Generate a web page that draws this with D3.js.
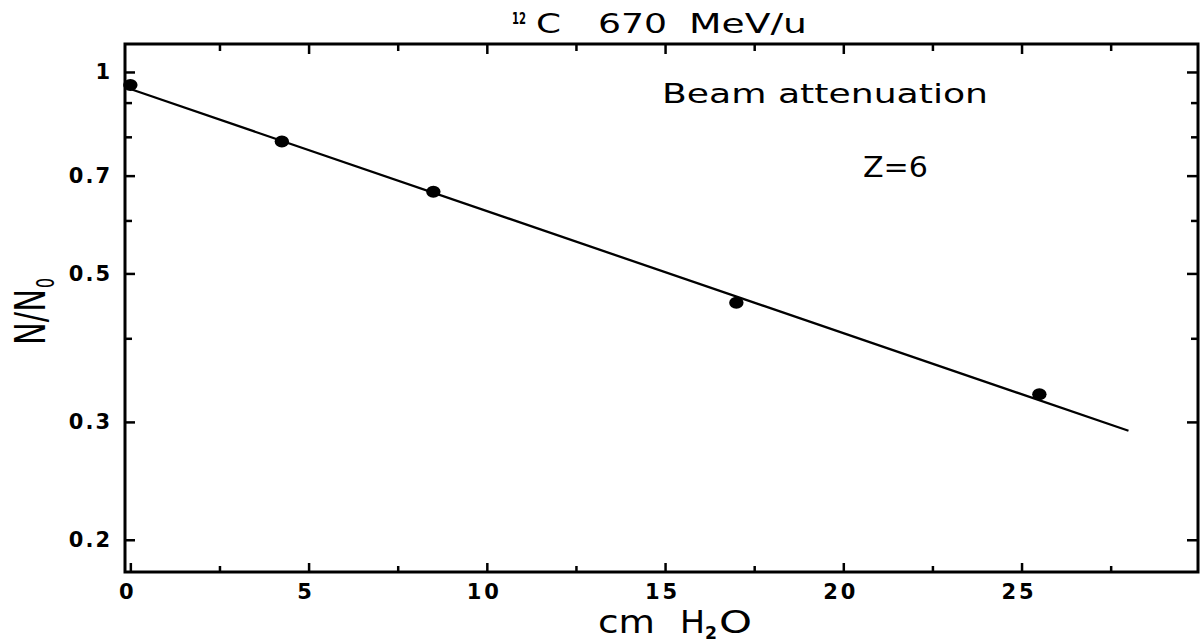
<!DOCTYPE html>
<html>
<head>
<meta charset="utf-8">
<script src="https://cdn.jsdelivr.net/npm/d3@7"></script>
<style>
  html, body { margin: 0; padding: 0; background: #fff; }
  svg { display: block; }
  text { font-family: "DejaVu Sans", "Liberation Sans", sans-serif; fill: #000; }
</style>
</head>
<body>
<svg id="chart" width="1202" height="644"></svg>
<script>
// ---- data ----
const depthCm = [0, 4.25, 8.5, 17, 25.5];           // cm H2O
const ratioN  = [0.956, 0.787, 0.662, 0.452, 0.330]; // N/N0
const fitDepth = [0, 28];
const fitRatio = [0.943, 0.291];

const xMajorTicks = [0, 5, 10, 15, 20, 25];
const xMinorTicks = [2.5, 7.5, 12.5, 17.5, 22.5, 27.5];
const yMajorTicks = [1, 0.7, 0.5, 0.3, 0.2];
const yTickLabels = ["1", "0.7", "0.5", "0.3", "0.2"];
const yMinorTicks = [0.9, 0.8, 0.6, 0.4];

const titleParts = ["12", "C", "670", "MeV/u"];
const annotation1 = "Beam attenuation";
const annotation2 = "Z=6";
const xLabelParts = ["cm", "H", "2", "O"];
const yLabelParts = ["N/N", "0"];

// ---- layout ----
const W = 1202, H = 644;
const L = 125, R = 1198, T = 44, B = 572;

const svg = d3.select("#chart");
svg.append("rect").attr("width", W).attr("height", H).attr("fill", "#fff");

const x = d3.scaleLinear().domain([-0.15, 29.95]).range([L, R]);
const y = d3.scaleLog().domain([0.179, 1.101]).range([B, T]);

const axisStyle = g => {
  g.select(".domain").remove();
  g.selectAll(".tick line").attr("stroke", "#000").attr("stroke-width", 2.5);
  g.selectAll(".tick text")
    .attr("font-family", "DejaVu Sans, sans-serif")
    .attr("font-weight", "bold")
    .attr("font-size", 21)
    .attr("fill", "#000");
};

// bottom axis (ticks inward)
svg.append("g").attr("transform", `translate(0,${B})`)
  .call(d3.axisBottom(x).tickValues(xMajorTicks).tickFormat(d3.format("d"))
        .tickSize(-9).tickPadding(12))
  .call(axisStyle)
  .call(g => g.selectAll(".tick text").attr("letter-spacing", 3).attr("dx", -3));
svg.append("g").attr("transform", `translate(0,${B})`)
  .call(d3.axisBottom(x).tickValues(xMinorTicks).tickFormat("").tickSize(-6))
  .call(axisStyle);
// top axis ticks
svg.append("g").attr("transform", `translate(0,${T})`)
  .call(d3.axisTop(x).tickValues(xMajorTicks.filter(d => d > 0)).tickFormat("").tickSize(-10))
  .call(axisStyle);
svg.append("g").attr("transform", `translate(0,${T})`)
  .call(d3.axisTop(x).tickValues(xMinorTicks).tickFormat("").tickSize(-7))
  .call(axisStyle);

// left axis
svg.append("g").attr("transform", `translate(${L},0)`)
  .call(d3.axisLeft(y).tickValues(yMajorTicks)
        .tickFormat((d, i) => yTickLabels[i]).tickSize(-10).tickPadding(13))
  .call(axisStyle)
  .call(g => g.selectAll(".tick text").attr("letter-spacing", 2));
svg.append("g").attr("transform", `translate(${L},0)`)
  .call(d3.axisLeft(y).tickValues(yMinorTicks).tickFormat("").tickSize(-7))
  .call(axisStyle);
// right axis
svg.append("g").attr("transform", `translate(${R},0)`)
  .call(d3.axisRight(y).tickValues(yMajorTicks).tickFormat("").tickSize(-11))
  .call(axisStyle);
svg.append("g").attr("transform", `translate(${R},0)`)
  .call(d3.axisRight(y).tickValues(yMinorTicks).tickFormat("").tickSize(-7))
  .call(axisStyle);

// frame
svg.append("rect")
  .attr("x", L).attr("y", T).attr("width", R - L).attr("height", B - T)
  .attr("fill", "none").attr("stroke", "#000").attr("stroke-width", 3);

// fit line
const line = d3.line().x(d => x(d[0])).y(d => y(d[1]));
svg.append("path")
  .datum(fitDepth.map((d, i) => [d, fitRatio[i]]))
  .attr("d", line)
  .attr("fill", "none").attr("stroke", "#000").attr("stroke-width", 2.3);

// data points
svg.append("g").selectAll("ellipse")
  .data(depthCm.map((d, i) => [d, ratioN[i]]))
  .join("ellipse")
  .attr("cx", d => x(d[0])).attr("cy", d => y(d[1]))
  .attr("rx", 7.2).attr("ry", 6)
  .attr("fill", "#000");

// helper for stretched text
function txt(s, xx, yy, size, len, opts = {}) {
  const t = svg.append("text")
    .attr("x", xx).attr("y", yy)
    .attr("font-size", size)
    .text(s);
  if (len) t.attr("textLength", len).attr("lengthAdjust", opts.adjust || "spacingAndGlyphs");
  if (opts.weight) t.attr("font-weight", opts.weight);
  return t;
}

// title
txt(titleParts[0], 512, 24, 15, 14, { weight: "bold" });
txt(titleParts[1], 536, 33, 27, 25);
txt(titleParts[2], 598, 33, 27, 69);
txt(titleParts[3], 689, 33, 27, 118);

// annotations
txt(annotation1, 662, 103, 27, 326);
txt(annotation2, 863, 177, 28, 65);

// x label
txt(xLabelParts[0], 598, 633, 32, 57);
txt(xLabelParts[1], 680, 633, 32, 25);
txt(xLabelParts[2], 705, 639, 18, 12, { weight: "bold" });
txt(xLabelParts[3], 719, 633, 32, 33);

// y label (rotated, condensed)
const yl = svg.append("g").attr("transform", "translate(45,345) rotate(-90)");
yl.append("text").attr("x", 0).attr("y", 0).attr("font-size", 42)
  .attr("textLength", 56).attr("lengthAdjust", "spacingAndGlyphs").text(yLabelParts[0]);
yl.append("text").attr("x", 57).attr("y", 9).attr("font-size", 24)
  .attr("textLength", 10).attr("lengthAdjust", "spacingAndGlyphs").text(yLabelParts[1]);
</script>
</body>
</html>
